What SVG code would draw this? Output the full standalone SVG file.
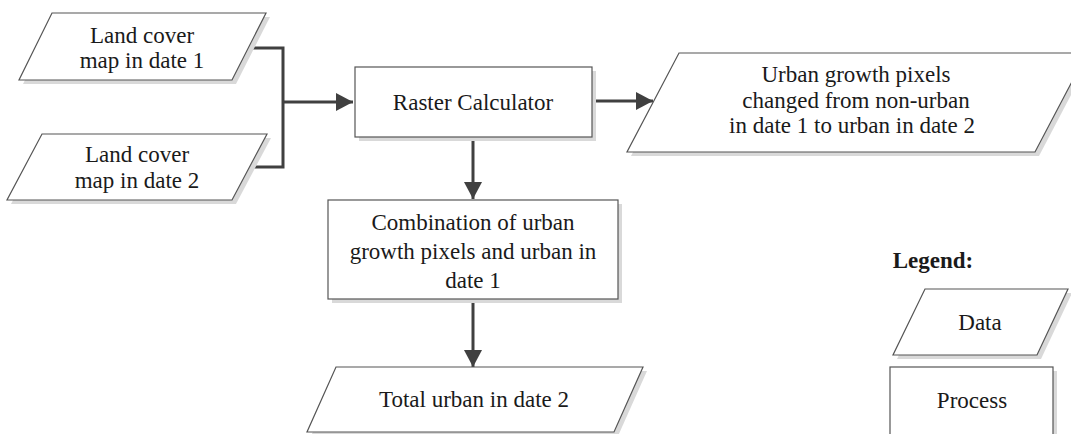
<svg xmlns="http://www.w3.org/2000/svg" width="1071" height="434" viewBox="0 0 1071 434">
<defs>
<style>
.shape{fill:#ffffff;stroke:#555555;stroke-width:1.2}
.shadow{fill:#d9d9d9;stroke:none}
.t{font-family:"Liberation Serif","Times New Roman",serif;font-size:23px;fill:#1a1a1a;text-anchor:middle}
.b{font-weight:bold}
.conn{fill:none;stroke:#404040;stroke-width:3}
</style>
<marker id="arr" markerUnits="userSpaceOnUse" markerWidth="18" markerHeight="18" refX="17" refY="9" orient="auto">
<path d="M0,0 L17,9 L0,18 Z" fill="#404040"/>
</marker>
</defs>
<rect width="1071" height="434" fill="#ffffff"/>

<g id="connectors">
<polyline class="conn" points="249,48 283,48 283,167 250,167"/>
<line class="conn" x1="283" y1="102" x2="353" y2="102" marker-end="url(#arr)"/>
<line class="conn" x1="592" y1="101" x2="653" y2="101" marker-end="url(#arr)"/>
<line class="conn" x1="473" y1="137" x2="473" y2="199" marker-end="url(#arr)"/>
<line class="conn" x1="473" y1="299" x2="473" y2="367" marker-end="url(#arr)"/>
</g>

<g id="land1">
<polygon class="shadow" points="56,17 270,17 236,84 23,84"/>
<polygon class="shape" points="52,13 266,13 232,80 19,80"/>
<text class="t" x="142" y="43">Land cover</text>
<text class="t" x="142" y="68">map in date 1</text>
</g>

<g id="land2">
<polygon class="shadow" points="46,138 271,138 236,204 11,204"/>
<polygon class="shape" points="42,134 267,134 232,200 7,200"/>
<text class="t" x="137" y="162">Land cover</text>
<text class="t" x="137" y="188">map in date 2</text>
</g>

<g id="raster">
<rect class="shadow" x="359" y="71" width="237" height="70"/>
<rect class="shape" x="355" y="67" width="237" height="70"/>
<text class="t" x="473" y="110">Raster Calculator</text>
</g>

<g id="urbangrowth">
<polygon class="shadow" points="683,57 1091,57 1039,156 631,156"/>
<polygon class="shape" points="679,53 1087,53 1035,152 627,152"/>
<text class="t" x="856" y="82">Urban growth pixels</text>
<text class="t" x="856" y="108">changed from non-urban</text>
<text class="t" x="852" y="133">in date 1 to urban in date 2</text>
</g>

<g id="combination">
<rect class="shadow" x="332" y="204" width="290" height="99"/>
<rect class="shape" x="328" y="200" width="290" height="99"/>
<text class="t" x="473" y="230">Combination of urban</text>
<text class="t" x="473" y="259">growth pixels and urban in</text>
<text class="t" x="473" y="288">date 1</text>
</g>

<g id="total">
<polygon class="shadow" points="340,371 647,371 618,436 311,436"/>
<polygon class="shape" points="336,367 643,367 614,432 307,432"/>
<text class="t" x="474" y="407">Total urban in date 2</text>
</g>

<g id="legend">
<text class="t b" x="933" y="268">Legend:</text>
<polygon class="shadow" points="929,293 1072,293 1041,359 897,359"/>
<polygon class="shape" points="925,289 1068,289 1037,355 893,355"/>
<text class="t" x="980" y="330">Data</text>
<rect class="shadow" x="894" y="371" width="163" height="70"/>
<rect class="shape" x="890" y="367" width="163" height="70"/>
<text class="t" x="972" y="408">Process</text>
</g>
</svg>
